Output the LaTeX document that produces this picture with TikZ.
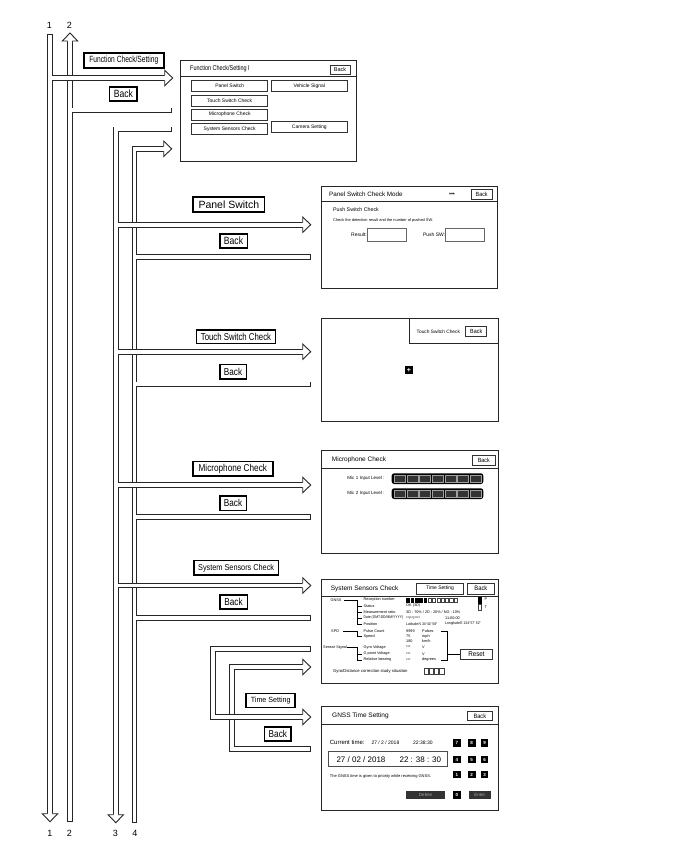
\documentclass[tikz,border=0pt]{standalone}
\usepackage{fontspec}
\setmainfont{Liberation Sans}
\usepackage{graphicx}
\newcommand\fs[1]{\fontsize{#1}{#1}\selectfont}
\newcommand\cnd[2]{\scalebox{#1}[1]{#2}}
\tikzset{
  pblk/.style={line width=5.6pt, line cap=rect, line join=miter, draw=black!85},
  pwht/.style={line width=3.8pt, line cap=rect, line join=miter, draw=white},
  hhead/.pic={\filldraw[fill=white, draw=black!85, line width=0.9pt, line join=miter]
     (-8,2.35) -- (-8,7.7) -- (0,0) -- (-8,-7.7) -- (-8,-2.35);},
  lbl/.style={draw=black, line width=1.5pt, fill=white, inner sep=0pt},
  scr/.style={draw=black!85, line width=0.9pt, fill=white, inner sep=0pt},
  sbtn/.style={draw=black!80, line width=0.6pt, fill=white, inner sep=0pt, font=\fs{5}},
  key/.style={fill=black, inner sep=0pt, minimum width=7.7pt, minimum height=7.5pt, text=white, font=\bfseries\fs{4.5}},
  tx/.style={inner sep=0pt, anchor=west},
  num/.style={inner sep=0pt, font=\fs{9}}
}
% pipes drawn underneath (line 2, line 4, inner return pipe)
\newcommand\pipesA[1]{%
  \draw[#1] (L2bot) -- (L2hb);
  \draw[#1] (70,110.3) -- (169.5,110.3);
  \draw[#1] (L4bot) -- (L4c) -- (L4hb);
  \foreach \yy in {256.7,384.3,517,618} \draw[#1] (134.5,\yy) -- (307.9,\yy);
  \draw[#1] (307.9,748.7) -- (232,748.7) -- (232,667) -- (302.7,667);
}
% pipes drawn on top (line 1, line 3, inner forward pipe)
\newcommand\pipesB[1]{%
  \draw[#1] (L1top) -- (L1hb);
  \draw[#1] (50,78) -- (164.7,78);
  \draw[#1] (168.9,129.3) -- (L3c) -- (L3hb);
  \foreach \yy in {224.7,351.7,485,585.5} \draw[#1] (115.8,\yy) -- (302.7,\yy);
  \draw[#1] (307.9,648.7) -- (213,648.7) -- (213,717) -- (302.7,717);
}
\begin{document}
\begin{tikzpicture}[x=1pt,y=-1pt]
\useasboundingbox (0,0) rectangle (688,852);
\fill[white] (0,0) rectangle (688,852);

% ---------- coordinates ----------
\coordinate (L1top) at (50,36.8);
\coordinate (L1hb) at (50,813.7);
\coordinate (L2bot) at (70,818.9);
\coordinate (L2hb) at (70,41);
\coordinate (L3c) at (115.8,129.3);
\coordinate (L3hb) at (115.8,814.7);
\coordinate (L4bot) at (134.5,820.5);
\coordinate (L4c) at (134.5,148.8);
\coordinate (L4hb) at (163.7,148.8);

% ---------- pipes ----------
\pipesA{pblk}
\pipesA{pwht}
\pipesB{pblk}
\pipesB{pwht}

% ---------- hollow arrow heads ----------
\pic[rotate=90] at (70,33) {hhead};
\pic[rotate=-90] at (50,821.7) {hhead};
\pic[rotate=-90] at (115.8,822.7) {hhead};
\pic at (171.7,148.8) {hhead};
\pic at (172.7,78) {hhead};
\foreach \yy in {224.7,351.7,485,585.5,667,717} \pic at (310.7,\yy) {hhead};

% ---------- numbers ----------
\node[num] (n1t) at (49.5,25) {1};
\node[num] (n2t) at (69.5,25) {2};
\node[num] (n1b) at (50,833) {1};
\node[num] (n2b) at (69.5,833) {2};
\node[num] (n3b) at (115.5,833) {3};
\node[num] (n4b) at (135,833) {4};

% ---------- flow labels ----------
\node[lbl, line width=1.8pt, minimum width=80pt, minimum height=14.6pt] (lFC) at (123.8,60.5) {\fs{9}\cnd{0.74}{Function Check/Setting}};
\node[lbl, minimum width=27.5pt, minimum height=14pt] (lB0) at (123.35,94.2) {\fs{10.5}\cnd{0.82}{Back}};
\node[lbl, minimum width=71.3pt, minimum height=14.6pt] (lPS) at (228.85,204.5) {\fs{10.5}Panel Switch};
\node[lbl, minimum width=27.5pt, minimum height=14pt] (lB1) at (233.5,240.8) {\fs{10.5}\cnd{0.82}{Back}};
\node[lbl, minimum width=79pt, minimum height=13.7pt] (lTS) at (236,336.65) {\fs{10}\cnd{0.78}{Touch Switch Check}};
\node[lbl, minimum width=26.5pt, minimum height=14.3pt] (lB2) at (233,371.65) {\fs{10}\cnd{0.82}{Back}};
\node[lbl, minimum width=80pt, minimum height=14.7pt] (lMC) at (232.8,468.85) {\fs{10}\cnd{0.82}{Microphone Check}};
\node[lbl, minimum width=26.5pt, minimum height=14.3pt] (lB3) at (233,503.35) {\fs{10}\cnd{0.82}{Back}};
\node[lbl, minimum width=84.7pt, minimum height=14.7pt] (lSS) at (236.15,567.85) {\fs{8.5}\cnd{0.86}{System Sensors Check}};
\node[lbl, minimum width=27.5pt, minimum height=14pt] (lB4) at (233.5,601.8) {\fs{10}\cnd{0.82}{Back}};
\node[lbl, minimum width=49pt, minimum height=14pt] (lTm) at (270.7,700.5) {\fs{7.5}\cnd{0.95}{Time Setting}};
\node[lbl, minimum width=26.7pt, minimum height=14pt] (lB5) at (277.85,734.2) {\fs{10}\cnd{0.82}{Back}};

% ---------- screen: Function Check/Setting I ----------
\node[scr, minimum width=176pt, minimum height=101pt] (sTop) at (268.5,111) {};
\draw[black!85, line width=0.7pt] (sTop.west |- 0,76.7) -- (sTop.east |- 0,76.7);
\node[tx, font=\fs{7}] (tTop) at (190,69) {\cnd{0.78}{Function Check/Setting I}};
\node[sbtn, minimum width=20pt, minimum height=9.3pt, font=\fs{5.5}] (bTop) at (340,69.65) {Back};
\node[sbtn, minimum width=76pt, minimum height=11pt] (b1) at (229.7,86.2) {Panel Switch};
\node[sbtn, minimum width=76.7pt, minimum height=11pt] (b2) at (309.35,86.2) {Vehicle Signal};
\node[sbtn, minimum width=76pt, minimum height=11pt] (b3) at (229.7,100.5) {Touch Switch Check};
\node[sbtn, minimum width=76pt, minimum height=11pt] (b4) at (229.7,114.5) {Microphone Check};
\node[sbtn, minimum width=76pt, minimum height=11pt] (b5) at (229.7,128.8) {System Sensors Check};
\node[sbtn, minimum width=76.7pt, minimum height=11pt] (b6) at (309.35,127.2) {Camera Setting};

% ---------- screen: Panel Switch Check Mode ----------
\node[scr, minimum width=176.2pt, minimum height=101.6pt] (sPS) at (409.4,237.5) {};
\draw[black!85, line width=0.7pt] (sPS.west |- 0,201.7) -- (sPS.east |- 0,201.7);
\node[tx, font=\fs{6.3}] (tPS) at (329,194) {Panel Switch Check Mode};
\node[inner sep=0pt, font=\bfseries\fs{5}] (starPS) at (452,194.5) {***};
\node[sbtn, minimum width=20.7pt, minimum height=9.7pt, font=\fs{6}] (bPS) at (481.65,194.15) {\cnd{0.9}{Back}};
\node[tx, font=\fs{5.3}] (ps1) at (333,209.5) {Push Switch Check};
\node[tx, font=\fs{3.9}] (ps2) at (333,220) {Check the detection result and the number of pushed SW.};
\node[sbtn, draw=black!60, minimum width=39pt, minimum height=12.7pt] (rBox) at (386.8,234.65) {};
\node[sbtn, draw=black!60, minimum width=39pt, minimum height=12.7pt] (pBox) at (465.2,234.65) {};
\node[inner sep=0pt, anchor=east, font=\fs{5}] (rLab) at (rBox.west) {Result:};
\node[inner sep=0pt, anchor=east, font=\fs{5}] (pLab) at (pBox.west) {Push SW:};

% ---------- screen: Touch Switch Check ----------
\node[scr, minimum width=176.3pt, minimum height=103.4pt] (sTS) at (409.85,370) {};
\draw[black!85, line width=0.7pt] (409.3,318.3) -- (409.3,343.3) -- (498,343.3);
\node[inner sep=0pt, font=\fs{4.8}] (tTS) at (438.3,331.3) {Touch Switch Check};
\node[sbtn, minimum width=21pt, minimum height=9.3pt, font=\fs{6}] (bTS) at (476.2,331.35) {\cnd{0.9}{Back}};
\node[fill=black, minimum size=7.5pt, inner sep=0pt, text=white, font=\bfseries\fs{7}] (plus) at (409,370) {+};

% ---------- screen: Microphone Check ----------
\node[scr, minimum width=176.3pt, minimum height=103.3pt] (sMC) at (409.85,501.65) {};
\draw[black!85, line width=0.7pt] (sMC.west |- 0,468) -- (sMC.east |- 0,468);
\node[tx, font=\fs{6.5}] (tMC) at (331.7,460) {Microphone Check};
\node[sbtn, minimum width=22.3pt, minimum height=10pt, font=\fs{6}] (bMC) at (483.85,460) {\cnd{0.9}{Back}};
\node[inner sep=0pt, anchor=east, font=\fs{4.5}] (m1) at (384,478.7) {Mic\,\,1\,\,Input Level\,:};
\node[inner sep=0pt, anchor=east, font=\fs{4.5}] (m2) at (384,493.7) {Mic\,\,2\,\,Input Level\,:};
\foreach \yy in {473.3,488.3}{
  \fill[black, rounded corners=2.5pt] (391.7,\yy) rectangle (483.3,\yy+10.7);
  \foreach \i in {0,...,6}
    \draw[gray!75, line width=0.5pt, fill=black!80] (394.5+\i*12.6,\yy+1.8) rectangle ++(11,7.1);
}

% ---------- screen: System Sensors Check ----------
\node[scr, minimum width=176.7pt, minimum height=104.3pt] (sSS) at (409.65,631.15) {};
\draw[black!85, line width=0.7pt] (sSS.west |- 0,596) -- (sSS.east |- 0,596);
\node[tx, font=\fs{6.5}] (tSS) at (330.7,589) {System Sensors Check};
\node[sbtn, minimum width=47.4pt, minimum height=10.7pt, font=\fs{5}] (bTm) at (440,588.65) {Time Setting};
\node[sbtn, minimum width=27.7pt, minimum height=10.7pt, font=\fs{6.5}] (bSS) at (480.85,588.65) {\cnd{0.9}{Back}};
\begin{scope}[every node/.style={inner sep=0pt, anchor=west, font=\fs{3.8}}, line width=0.45pt]
  % GNSS
  \node (gn) at (330.5,600) {GNSS};
  \draw (344,600) -- (357,600) -- (357,624);
  \foreach \yy in {606,612,618,624} \draw (357,\yy) -- (362,\yy);
  \node (g1) at (363.5,600) {Reception number};
  \node (g2) at (363.5,606) {Status};
  \node (g3) at (363.5,612) {Measurement ratio};
  \node (g4) at (363.5,618) {\cnd{0.88}{Date (GMT:DD/MM/YYYY)}};
  \node (g5) at (363.5,624) {Position};
  \foreach \i in {0,...,11}{
    \ifnum\i<5 \fill[black] (406.3+\i*4.3,597.5) rectangle ++(3.6,5);
    \else \draw[black!75, line width=0.4pt] (406.6+\i*4.3,597.8) rectangle ++(3.1,4.5); \fi}
  \node (v2) at (406,606) {OK (3D)};
  \node (v3) at (406,612) {3D : 70\% / 2D : 20\% / NG : 10\%};
  \node (v4) at (406,618) {**/**/****};
  \node (v4b) at (445,618) {11:00:00};
  \node (v5) at (406,624) {\cnd{0.88}{Latitude\,N 34\textdegree 40' 58"}};
  \node (v5b) at (445,624) {\cnd{0.88}{Longitude\,E 134\textdegree 57' 52"}};
  \fill[black] (478,597) rectangle (481.5,603.5);
  \draw[black!75, line width=0.4pt] (478,604.5) rectangle (481.5,610);
  \node (lp) at (484.5,599.5) {P};
  \node (lt) at (484.5,607) {T};
  % SPD
  \node (spd) at (331,631.5) {SPD};
  \draw (343,631.5) -- (357,631.5) -- (357,636.5) -- (362,636.5);
  \node (s1) at (363.5,631.5) {Pulse Count};
  \node (s2) at (363.5,636.5) {Speed};
  \node (s3) at (406,631.5) {9999};
  \node (s4) at (406,636.5) {75};
  \node (s5) at (406,641.5) {180};
  \node (s6) at (422,631.5) {Pulses};
  \node (s7) at (422,636.5) {mph};
  \node (s8) at (422,641.5) {km/h};
  % Sensor signal
  \node (sig) at (323,647.5) {Sensor Signal};
  \draw (347,647.5) -- (357,647.5) -- (357,660);
  \foreach \yy in {654,660} \draw (357,\yy) -- (362,\yy);
  \node (q1) at (363.5,647.5) {Gyro Voltage};
  \node (q2) at (363.5,654) {G point Voltage};
  \node (q3) at (363.5,660) {Relative bearing};
  \node (q4) at (406,647.5) {***};
  \node (q5) at (406,654) {***};
  \node (q6) at (406,660) {***};
  \node (q7) at (422,647.5) {V};
  \node (q8) at (422,654) {V};
  \node (q9) at (422,660) {degrees};
  \draw (441,631.5) -- (447,631.5) -- (447,660) -- (441,660);
  \node[font=\fs{4.2}] (gy) at (333,671) {Gyro/Distance correction study situation};
  \foreach \i in {0,...,3} \draw[black!75, line width=0.4pt] (424+\i*5.2,668) rectangle ++(4.2,6);
\end{scope}
\node[sbtn, minimum width=31.6pt, minimum height=10.3pt, font=\fs{7}, line width=0.8pt] (bRs) at (476.5,654.15) {\cnd{0.9}{Reset}};
\draw[line width=0.45pt] (447,654.15) -- (bRs.west);

% ---------- screen: GNSS Time Setting ----------
\node[scr, minimum width=176.7pt, minimum height=104pt] (sGN) at (409.65,758) {};
\draw[black!85, line width=0.7pt] (sGN.west |- 0,724) -- (sGN.east |- 0,724);
\node[tx, font=\fs{6.5}] (tGN) at (332,716) {GNSS Time Setting};
\node[sbtn, minimum width=25pt, minimum height=9pt, font=\fs{6.3}] (bGN) at (479.8,716.2) {\cnd{0.9}{Back}};
\node[tx, font=\fs{6}] (ct) at (329.7,742.7) {Current time:};
\node[tx, font=\fs{5}] (cd) at (371.3,742.7) {27 / 2 / 2018};
\node[tx, font=\fs{5}] (ch) at (413,742.7) {22:38:30};
\node[sbtn, draw=black!70, minimum width=119.3pt, minimum height=15pt] (tBox) at (387.65,759.2) {};
\node[tx, font=\fs{8}] (td) at (336.3,759.4) {27 / 02 / 2018};
\node[inner sep=0pt, anchor=east, font=\fs{8}] (th) at (441.3,759.4) {22 : 38 : 30};
\node[tx, font=\fs{4}] (gn2) at (329.7,776.7) {The GNSS time is given to priority while receiving GNSS.};
\node[key] (k7) at (456.85,743) {7};
\node[key] (k8) at (471.65,743) {8};
\node[key] (k9) at (484.5,743) {9};
\node[key] (k4) at (456.85,759.65) {4};
\node[key] (k5) at (471.65,759.65) {5};
\node[key] (k6) at (484.5,759.65) {6};
\node[key] (k1) at (456.85,774.5) {1};
\node[key] (k2) at (471.65,774.5) {2};
\node[key] (k3) at (484.5,774.5) {3};
\node[key, minimum height=8.3pt] (k0) at (456.85,795.15) {0};
\node[key, fill=black!80, text=gray!70, font=\fs{4.5}, minimum width=38.4pt, minimum height=8.3pt] (kDel) at (425.5,795.15) {Delete};
\node[key, fill=black!80, text=gray!70, font=\fs{4.5}, minimum width=22pt, minimum height=8.3pt] (kEnt) at (479.7,795.15) {Enter};
\end{tikzpicture}
\end{document}
